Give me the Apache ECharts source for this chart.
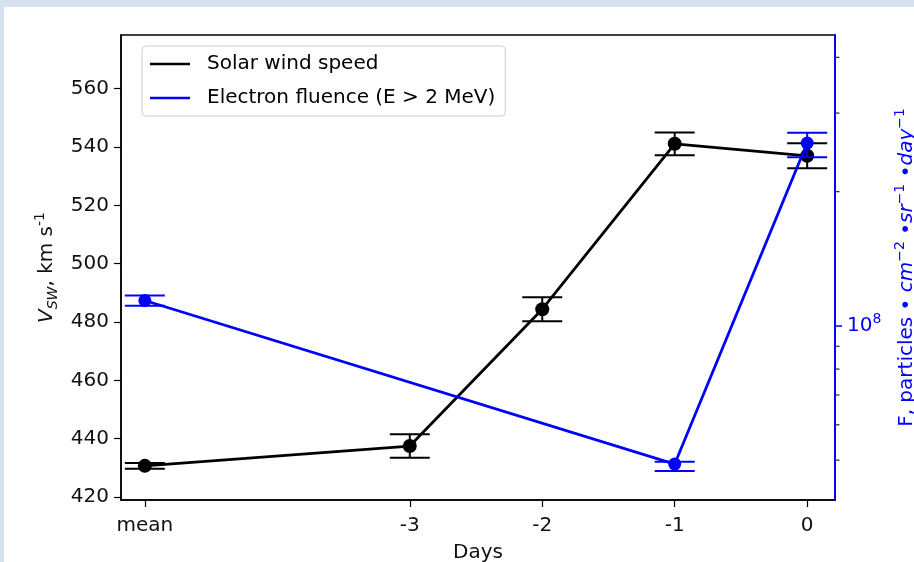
<!DOCTYPE html>
<html>
<head>
<meta charset="utf-8">
<script src="https://cdn.jsdelivr.net/npm/echarts@6/dist/echarts.min.js"></script>
<style>
  html, body { margin: 0; padding: 0; background: #d5e2ee; }
  #frame { position: absolute; left: 4px; top: 7px; width: 910px; height: 555px; background: #ffffff; }
  #chart { position: absolute; left: 0; top: 0; width: 914px; height: 562px; }
</style>
</head>
<body>
<div id="frame"></div>
<div id="chart"></div>
<script>
// Day positions on the x axis; the "mean" column sits two units left of day -3
const dayPositions = [-5, -3, -2, -1, 0];
const dayLabels = ['mean', '-3', '-2', '-1', '0'];
const dayAxisMin = -5.18;
const dayAxisMax = 0.21;

// Solar wind speed, km/s, with symmetric errors
const speed = [430.7, 437.5, 484.4, 541.1, 537.0];
const speedErr = [1.0, 4.0, 4.1, 3.9, 4.3];

// Electron fluence (E > 2 MeV), particles cm^-2 sr^-1 day^-1
const fluenceDays = [-5, -1, 0];
const fluence = [1.14e8, 4.90e7, 2.57e8];
const fluenceLow = [1.11e8, 4.73e7, 2.39e8];
const fluenceHigh = [1.17e8, 4.96e7, 2.71e8];

// Tick values
const speedTicks = [420, 440, 460, 480, 500, 520, 540, 560];
const fluenceMajorTicks = [1e8];
const fluenceMinorTicks = [5e7, 6e7, 7e7, 8e7, 9e7, 2e8, 3e8, 4e8];

const FONT = 'DejaVu Sans';
const BLUE = '#0000ff';
const FS = 20;

const chart = echarts.init(document.getElementById('chart'), null, { renderer: 'canvas' });

function errorBars(color, yAxisIndex, data, z) {
  return {
    type: 'custom',
    yAxisIndex: yAxisIndex,
    z: z,
    silent: true,
    data: data,
    encode: { x: 0, y: [1, 2] },
    renderItem: function (params, api) {
      const x = api.value(0);
      const lo = api.coord([x, api.value(1)]);
      const hi = api.coord([x, api.value(2)]);
      const hw = 20;
      const style = { stroke: color, lineWidth: 2, fill: null };
      return {
        type: 'group',
        children: [
          { type: 'line', shape: { x1: lo[0], y1: lo[1], x2: hi[0], y2: hi[1] }, style: style },
          { type: 'line', shape: { x1: lo[0] - hw, y1: lo[1], x2: lo[0] + hw, y2: lo[1] }, style: style },
          { type: 'line', shape: { x1: hi[0] - hw, y1: hi[1], x2: hi[0] + hw, y2: hi[1] }, style: style }
        ]
      };
    }
  };
}

// Short minor ticks on the outside of the logarithmic right axis
const minorTickSeries = {
  type: 'custom',
  yAxisIndex: 1,
  silent: true,
  clip: false,
  z: 1,
  data: fluenceMinorTicks.map(v => [dayAxisMax, v]),
  encode: { x: 0, y: 1 },
  renderItem: function (params, api) {
    const p = api.coord([api.value(0), api.value(1)]);
    return {
      type: 'line',
      shape: { x1: p[0], y1: p[1], x2: p[0] + 4.5, y2: p[1] },
      style: { stroke: '#333', lineWidth: 1.3 }
    };
  }
};

const speedPoints = dayPositions.map((d, i) => [d, speed[i]]);
const speedBars = dayPositions.map((d, i) => [d, speed[i] - speedErr[i], speed[i] + speedErr[i]]);
const fluencePoints = fluenceDays.map((d, i) => [d, fluence[i]]);
const fluenceBars = fluenceDays.map((d, i) => [d, fluenceLow[i], fluenceHigh[i]]);

const option = {
  animation: false,
  backgroundColor: 'transparent',
  textStyle: { fontFamily: FONT },
  grid: {
    left: 121, right: 79, top: 35, bottom: 62,
    containLabel: false,
    outerBoundsMode: 'none',
    show: true, borderColor: '#000', borderWidth: 1.5, backgroundColor: 'transparent'
  },
  legend: {
    data: ['Solar wind speed', 'Electron fluence (E > 2 MeV)'],
    orient: 'vertical',
    left: 142, top: 46,
    icon: 'rect',
    itemWidth: 40, itemHeight: 2.5,
    itemGap: 14,
    padding: [8, 10, 8, 8],
    borderColor: '#cccccc', borderWidth: 1, borderRadius: 4,
    backgroundColor: 'rgba(255,255,255,0.8)',
    textStyle: { fontFamily: FONT, fontSize: FS, color: '#000', padding: [0, 0, 0, 12] }
  },
  xAxis: {
    type: 'value',
    min: dayAxisMin, max: dayAxisMax,
    splitLine: { show: false },
    axisLine: { show: true, onZero: false, lineStyle: { color: '#000', width: 1.5 } },
    axisTick: { show: true, length: 7, customValues: dayPositions, lineStyle: { color: '#000', width: 1.2 } },
    axisLabel: {
      customValues: dayPositions,
      formatter: v => dayLabels[dayPositions.indexOf(v)],
      margin: 16, fontFamily: FONT, fontSize: FS, color: '#111'
    },
    name: 'Days',
    nameLocation: 'middle',
    nameGap: 43,
    nameTextStyle: { fontFamily: FONT, fontSize: FS, color: '#111' }
  },
  yAxis: [
    {
      type: 'value',
      position: 'left',
      min: 419, max: 578.4,
      splitLine: { show: false },
      axisLine: { show: true, onZero: false, lineStyle: { color: '#000', width: 1.5 } },
      axisTick: { show: true, length: 7, customValues: speedTicks, lineStyle: { color: '#000', width: 1.2 } },
      axisLabel: { customValues: speedTicks, margin: 12, fontFamily: FONT, fontSize: FS, color: '#111' },
      name: '{v|V}{sub|SW}{t|, km s}{sup|-1}',
      nameLocation: 'middle',
      nameRotate: 90,
      nameGap: 60,
      nameTextStyle: {
        fontFamily: FONT, fontSize: FS, color: '#111',
        rich: {
          v: { fontFamily: FONT, fontSize: FS, fontStyle: 'italic', color: '#111', lineHeight: 27 },
          t: { fontFamily: FONT, fontSize: FS, color: '#111', lineHeight: 27 },
          sub: { fontFamily: FONT, fontSize: 14, fontStyle: 'italic', color: '#111', lineHeight: 14, verticalAlign: 'bottom' },
          sup: { fontFamily: FONT, fontSize: 14, color: '#111', lineHeight: 14, verticalAlign: 'top' }
        }
      }
    },
    {
      type: 'log',
      logBase: 10,
      position: 'right',
      min: 4.07e7, max: 4.49e8,
      splitLine: { show: false },
      axisLine: { show: true, onZero: false, lineStyle: { color: BLUE, width: 2 } },
      axisTick: { show: true, length: 7, customValues: fluenceMajorTicks, lineStyle: { color: BLUE, width: 1.5 } },
      axisLabel: {
        customValues: fluenceMajorTicks,
        formatter: () => '{b|10}{s|8}',
        margin: 12,
        rich: {
          b: { fontFamily: FONT, fontSize: FS, color: BLUE, lineHeight: 27 },
          s: { fontFamily: FONT, fontSize: 14, color: BLUE, lineHeight: 14, verticalAlign: 'top' }
        }
      },
      name: 'F, particles • {i|cm}{sup|−2}{t| •}{i|sr}{sup|−1}{t| •}{i|day}{sup|−1}',
      nameLocation: 'middle',
      nameRotate: 90,
      nameGap: 58,
      nameTextStyle: {
        fontFamily: FONT, fontSize: FS, color: BLUE,
        rich: {
          t: { fontFamily: FONT, fontSize: FS, color: BLUE, lineHeight: 27 },
          i: { fontFamily: FONT, fontSize: FS, fontStyle: 'italic', color: BLUE, lineHeight: 27 },
          sup: { fontFamily: FONT, fontSize: 14, color: BLUE, lineHeight: 14, verticalAlign: 'top' }
        }
      }
    }
  ],
  series: [
    minorTickSeries,
    errorBars('#000', 0, speedBars, 2),
    {
      name: 'Solar wind speed',
      type: 'line',
      yAxisIndex: 0,
      data: speedPoints,
      z: 3,
      color: '#000',
      lineStyle: { color: '#000', width: 2.8 },
      itemStyle: { color: '#000' },
      symbol: 'circle',
      symbolSize: 14,
      showAllSymbol: true
    },
    errorBars(BLUE, 1, fluenceBars, 4),
    {
      name: 'Electron fluence (E > 2 MeV)',
      type: 'line',
      yAxisIndex: 1,
      data: fluencePoints,
      z: 5,
      color: BLUE,
      lineStyle: { color: BLUE, width: 2.8 },
      itemStyle: { color: BLUE },
      symbol: 'circle',
      symbolSize: 13,
      showAllSymbol: true
    }
  ]
};

chart.setOption(option);
</script>
</body>
</html>
